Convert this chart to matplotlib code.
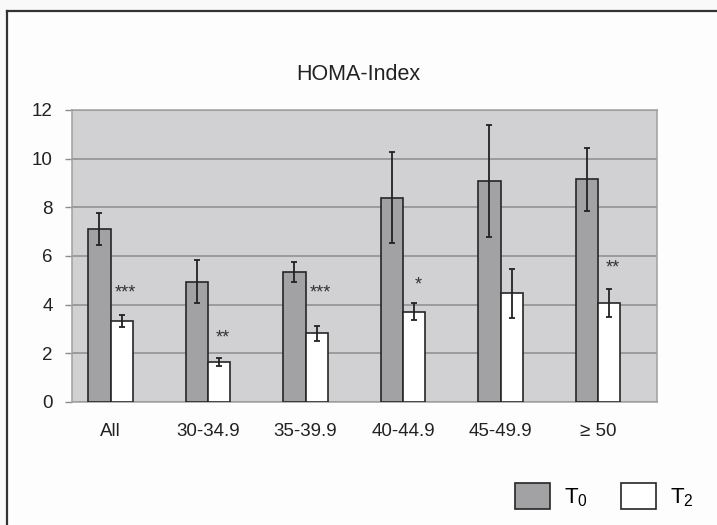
import matplotlib.pyplot as plt
from matplotlib.patches import Rectangle
import numpy as np

# HOMA-Index by BMI group, T0 vs T2
groups = ['All', '30-34.9', '35-39.9', '40-44.9', '45-49.9', '\u2265 50']
t0_mean = [7.1, 4.95, 5.35, 8.4, 9.1, 9.15]
t0_err = [0.65, 0.87, 0.4, 1.86, 2.3, 1.3]
t2_mean = [3.33, 1.63, 2.83, 3.7, 4.47, 4.07]
t2_err = [0.26, 0.17, 0.31, 0.35, 1.0, 0.57]
stars = ['***', '**', '***', '*', '', '**']
star_y = [4.5, 2.65, 4.5, 4.8, 0, 5.5]

plt.rcParams['font.family'] = ['Liberation Sans', 'DejaVu Sans']
plt.rcParams['mathtext.default'] = 'regular'

fig = plt.figure(figsize=(7.17, 5.25), dpi=100, facecolor='#f9f9f9')

# outer frame (left + top only) and inner chart area
fig.add_artist(Rectangle((7 / 717, 0), 1.0, 1 - 11 / 525, transform=fig.transFigure,
                         facecolor='#fdfdfd', edgecolor='none', zorder=0))
fig.add_artist(plt.Line2D([7 / 717, 7 / 717], [0, 1 - 11 / 525], transform=fig.transFigure,
                          color='#333333', lw=1.6))
fig.add_artist(plt.Line2D([7 / 717, 1], [1 - 11 / 525, 1 - 11 / 525], transform=fig.transFigure,
                          color='#333333', lw=1.6))

ax = fig.add_axes([72 / 717, 1 - 402 / 525, (657 - 72) / 717, (402 - 110) / 525])
ax.set_facecolor('#d1d1d3')

x = np.arange(len(groups))
w = 0.226
ekw = dict(ecolor='#222222', elinewidth=1.3, capsize=2.2, capthick=1.3)
ax.bar(x - w / 2, t0_mean, w, yerr=t0_err, color='#a2a2a4', edgecolor='#262626',
       linewidth=1.2, error_kw=ekw, zorder=3, label='T$_0$')
ax.bar(x + w / 2, t2_mean, w, yerr=t2_err, color='white', edgecolor='#262626',
       linewidth=1.2, error_kw=ekw, zorder=3, label='T$_2$')

for i, s in enumerate(stars):
    if s:
        ax.text(x[i] + w / 2 + 0.04, star_y[i], s, ha='center', va='center',
                fontsize=13, color='#333333')

ax.set_xlim(-0.395, 5.605)
ax.set_ylim(0, 12)
ax.set_yticks(range(0, 13, 2))
ax.yaxis.grid(True, color='#8c8c8c', lw=1.1)
ax.set_axisbelow(True)
ax.set_xticks(x)
ax.set_xticklabels(groups)
ax.tick_params(axis='x', length=0, pad=15, labelsize=13.5, colors='#222222')
ax.tick_params(axis='y', length=5, width=1, color='#8c8c8c', pad=9, labelsize=13.5,
               labelcolor='#222222')
for sp in ax.spines.values():
    sp.set_color('#a0a0a0')
    sp.set_linewidth(1.1)

fig.text(358 / 717, 1 - 75 / 525, 'HOMA-Index', ha='center', va='center',
         fontsize=15.5, color='#222222')

fig.legend(loc='center', bbox_to_anchor=(604 / 717, 1 - 496 / 525), ncol=2,
           frameon=False, fontsize=16, handlelength=1.6, handleheight=1.4,
           handletextpad=0.6, columnspacing=1.5)

plt.savefig('out.png', dpi=100, facecolor=fig.get_facecolor())
